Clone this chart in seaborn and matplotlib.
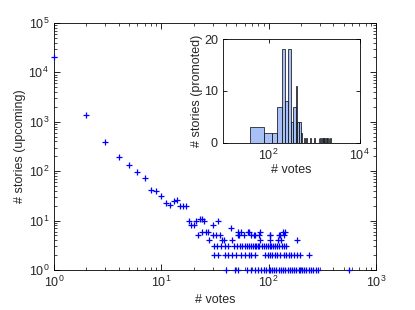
import pandas as pd
import numpy as np
import matplotlib
matplotlib.use('Agg')
import matplotlib.pyplot as plt
import seaborn as sns

# upcoming stories: number of stories with a given number of votes
head_votes = [1, 2, 3, 4, 5, 6, 7, 8, 9, 10, 11, 12, 13, 14, 15, 16, 17]
head_stories = [20000, 1350, 390, 195, 134, 96, 73, 42, 39, 31, 23, 21, 25, 26, 20, 20, 20]

# tail: vote values that share the same story count
tail_11 = [23, 24]
tail_10 = [18, 21, 25, 34]
tail_8 = [19, 20, 30]
tail_7 = [45]
tail_6 = [24, 26, 27, 52, 55, 64, 65, 83, 137, 141]
tail_5 = [22, 30, 32, 35, 52, 53, 59, 69, 73, 74, 81, 102, 104, 125, 128, 138]
tail_4 = [28, 37, 38, 46, 83, 104, 122, 130, 183]
tail_3 = [31, 33, 36, 39, 42, 48, 51, 54, 57, 60, 63, 66, 68, 71, 74, 76, 79, 82,
          86, 90, 94, 98, 102, 106, 110, 115, 120, 126, 132, 138, 144]
tail_2 = [31, 34, 39, 42, 46, 50, 55, 60, 65, 69, 74, 92, 98, 103, 108, 114, 120,
          127, 138, 145, 155, 163, 172, 185, 195, 237]
tail_1 = [40, 49, 52, 63, 69, 74, 80, 85, 90, 95, 100, 104, 108, 113, 118, 124, 130,
          136, 142, 150, 158, 165, 172, 180, 190, 198, 206, 215, 225, 236, 248, 260,
          275, 290, 556]

# promoted stories histogram (votes per bin, count in bin)
promoted_votes = [60, 98, 137, 176, 215, 254, 293, 332, 371, 410, 449, 488, 527,
                  605, 683, 839, 1030, 1250, 1390, 1530, 1610, 1700, 1870, 1980,
                  2080, 2290]
promoted_counts = [3, 2, 2, 7, 18, 8, 18, 4, 7, 11, 4, 4, 2,
                   1, 1, 1, 1, 1, 1, 1, 1, 1, 1, 1, 1, 1]

tails = {11: tail_11, 10: tail_10, 8: tail_8, 7: tail_7, 6: tail_6, 5: tail_5,
         4: tail_4, 3: tail_3, 2: tail_2, 1: tail_1}
rows = list(zip(head_votes, head_stories))
for n, vs in tails.items():
    rows += [(v, n) for v in vs]
upcoming = pd.DataFrame(rows, columns=['votes', 'stories'])
promoted = pd.DataFrame({'votes': promoted_votes, 'count': promoted_counts})

sns.set_style('ticks')
plt.rcParams['font.family'] = ['Liberation Sans', 'DejaVu Sans']
plt.rcParams['mathtext.default'] = 'regular'
plt.rcParams['axes.linewidth'] = 0.6

fig = plt.figure(figsize=(4.15, 3.10), dpi=100)
ax = fig.add_axes([0.130, 0.129, 0.776, 0.797])
ax.set_xscale('log')
ax.set_yscale('log')

sns.scatterplot(data=upcoming, x='votes', y='stories', marker='+', color='#0000ff',
                s=25, linewidth=0.9, ax=ax, legend=False, clip_on=False, zorder=3)
ax.set_xlim(1, 1000)
ax.set_ylim(1, 1e5)
ax.xaxis.set_minor_locator(matplotlib.ticker.LogLocator(base=10, subs=np.arange(2, 10)))
ax.yaxis.set_minor_locator(matplotlib.ticker.LogLocator(base=10, subs=np.arange(2, 10)))
ax.xaxis.set_minor_formatter(matplotlib.ticker.NullFormatter())
ax.yaxis.set_minor_formatter(matplotlib.ticker.NullFormatter())
ax.set_xlabel('# votes', fontsize=9, labelpad=3)
ax.set_ylabel('# stories (upcoming)', fontsize=9, labelpad=2)
ax.tick_params(which='both', direction='in', top=True, right=True, bottom=True, left=True,
               labelsize=9, color='black')
ax.tick_params(which='major', length=4, width=0.6)
ax.tick_params(which='minor', length=2, width=0.5)
for s in ax.spines.values():
    s.set_color('black')

ins = fig.add_axes([0.537, 0.539, 0.330, 0.335])
sns.histplot(data=promoted, x='votes', weights='count', binwidth=39, binrange=(40, 2341),
             color='#a8c0f5', edgecolor='black', linewidth=0.5, alpha=1.0, ax=ins)
ins.set_xscale('log')
ins.set_xlim(10, 1e4)
ins.set_ylim(0, 20)
ins.set_xticks([1e2, 1e4])
ins.xaxis.set_minor_locator(matplotlib.ticker.NullLocator())
ins.set_yticks([0, 10, 20])
ins.set_xlabel('# votes', fontsize=9, labelpad=1)
ins.set_ylabel('# stories (promoted)', fontsize=9, labelpad=1)
ins.tick_params(which='both', direction='in', top=True, right=True, bottom=True, left=True,
                labelsize=9, length=3, width=0.6, color='black')
for s in ins.spines.values():
    s.set_color('black')

fig.savefig('out.png', dpi=100, facecolor='white')
